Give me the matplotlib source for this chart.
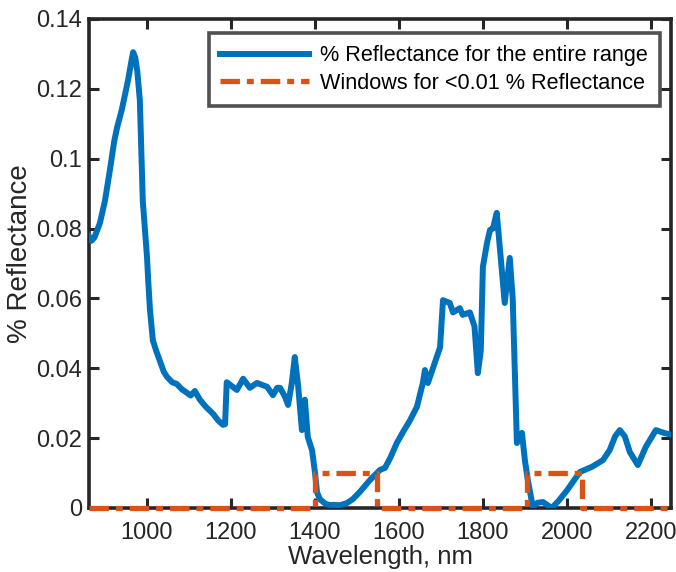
import numpy as np
import matplotlib.pyplot as plt

plt.rcParams['font.family'] = ['Liberation Sans', 'DejaVu Sans']
plt.rcParams['lines.scale_dashes'] = False

# measured reflectance spectrum
wavelength = [862, 868, 875, 888, 900, 912, 922, 929, 940, 955, 963, 967, 972,
              977, 983, 990, 1000, 1003, 1007, 1014, 1022, 1031, 1040, 1048,
              1060, 1071, 1083, 1095, 1104, 1114, 1126, 1140, 1157, 1170, 1181,
              1186, 1190, 1214, 1229, 1245, 1262, 1286, 1300, 1310, 1317, 1329,
              1336, 1345, 1352, 1360, 1369, 1376, 1383, 1393, 1400, 1405, 1412,
              1425, 1436, 1443, 1460, 1476, 1490, 1507, 1531, 1555, 1567, 1580,
              1595, 1610, 1626, 1643, 1657, 1662, 1669, 1681, 1698, 1705, 1721,
              1729, 1745, 1752, 1769, 1780, 1788, 1795, 1800, 1810, 1817, 1824,
              1833, 1840, 1852, 1864, 1871, 1881, 1893, 1900, 1907, 1919, 1930,
              1943, 1964, 1980, 2000, 2031, 2060, 2086, 2102, 2115, 2126, 2138,
              2150, 2169, 2188, 2212, 2231, 2248]
reflectance = [0.0778, 0.0765, 0.0775, 0.0816, 0.088, 0.097, 0.105, 0.109, 0.114,
               0.1225, 0.128, 0.1305, 0.129, 0.125, 0.1168, 0.088, 0.072, 0.065,
               0.057, 0.048, 0.045, 0.042, 0.039, 0.0375, 0.036, 0.0355, 0.034,
               0.033, 0.0322, 0.0335, 0.031, 0.029, 0.027, 0.025, 0.0238, 0.024,
               0.036, 0.0338, 0.037, 0.0344, 0.0358, 0.0347, 0.0323, 0.0344,
               0.0344, 0.0318, 0.0295, 0.0358, 0.0432, 0.035, 0.0223, 0.031,
               0.0203, 0.0166, 0.0103, 0.0045, 0.0025, 0.0012, 0.0008, 0.0009,
               0.0008, 0.0014, 0.0025, 0.0046, 0.008, 0.0109, 0.0115, 0.0145,
               0.0186, 0.0218, 0.025, 0.029, 0.0358, 0.0395, 0.0358, 0.040, 0.046,
               0.0595, 0.0587, 0.056, 0.0572, 0.0553, 0.056, 0.052, 0.0386, 0.045,
               0.069, 0.076, 0.0796, 0.080, 0.0845, 0.075, 0.0587, 0.0716, 0.060,
               0.0186, 0.0215, 0.0137, 0.008, 0.0003, 0.0015, 0.0017, 0.0, 0.002,
               0.005, 0.0103, 0.0118, 0.0137, 0.0166, 0.0205, 0.0223, 0.0205,
               0.016, 0.0123, 0.0175, 0.0223, 0.0215, 0.021]

# wavelength windows where reflectance stays below 0.01 %
windows = [(1400, 1548), (1905, 2035)]
window_level = 0.01

win_x = [wavelength[0]]
win_y = [0]
for a, b in windows:
    win_x += [a, a, b, b]
    win_y += [0, window_level, window_level, 0]
win_x.append(wavelength[-1])
win_y.append(0)

fig = plt.figure(figsize=(6.76, 5.72), dpi=100)
ax = fig.add_axes([0.1317, 0.1119, 0.8609, 0.8549])

ax.plot(wavelength, reflectance, color='#0072BD', lw=4.3, zorder=3,
        label='% Reflectance for the entire range', solid_joinstyle='round')
ax.plot(win_x, win_y, color='#D95319', lw=3.8, linestyle=(0, (14, 5, 5, 5)),
        zorder=4, clip_on=False, label='Windows for <0.01 % Reflectance')

ax.set_xlim(862, 2248)
ax.set_ylim(0, 0.14)
ax.set_xticks([1000, 1200, 1400, 1600, 1800, 2000, 2200])
ax.set_yticks([0, 0.02, 0.04, 0.06, 0.08, 0.1, 0.12, 0.14])
ax.set_yticklabels(['0', '0.02', '0.04', '0.06', '0.08', '0.1', '0.12', '0.14'])
ax.tick_params(direction='in', length=7, width=2.2, top=True, right=True,
               labelsize=17, colors='#262626')
ax.tick_params(axis='x', pad=10)
ax.tick_params(axis='y', pad=5)
for s in ax.spines.values():
    s.set_linewidth(2.6)
    s.set_color('#262626')

ax.set_xlabel('Wavelength, nm', fontsize=18.5, color='#262626', labelpad=1)
ax.set_ylabel('% Reflectance', fontsize=20, color='#262626')
ax.yaxis.set_label_coords(-0.097, 0.52)

leg = ax.legend(loc='upper right', bbox_to_anchor=(0.981, 0.971), fontsize=15.6,
                frameon=True, fancybox=False, handlelength=4.1, borderpad=0.55,
                labelspacing=0.3, handletextpad=0.5, borderaxespad=0)
leg.get_frame().set_edgecolor('#262626')
leg.get_frame().set_linewidth(2.6)

fig.savefig('out.png', dpi=100)
